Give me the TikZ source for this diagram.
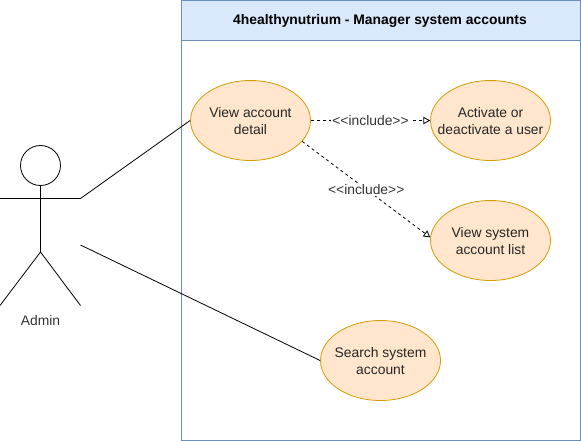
\documentclass[tikz,border=0pt]{standalone}
\usepackage{fontspec}
\setmainfont{Liberation Sans}
\usetikzlibrary{arrows.meta,shapes.geometric}
\definecolor{usefill}{HTML}{FFE6CC}
\definecolor{usedraw}{HTML}{D79B00}
\definecolor{boxfill}{HTML}{DAE8FC}
\definecolor{boxdraw}{HTML}{6C8EBF}
\tikzset{
	usecase/.style={ellipse,draw=usedraw,fill=usefill,minimum width=90pt,minimum height=60pt,inner sep=0pt},
	usetext/.style={align=center,inner sep=0pt,yshift=-0.6pt,text=black!85,font=\fontsize{10.4}{12.75}\selectfont},
	include/.style={dash pattern=on 2.25pt off 2.25pt,-{Triangle[open,length=5pt,width=5.5pt]}},
	inclabel/.style={fill=white,inner sep=1pt,text=black!80,font=\fontsize{10.4}{12}\selectfont},
	assoc/.style={draw=black,line width=0.6pt}
}
\begin{document}
\begin{tikzpicture}[x=0.75pt,y=-0.75pt,line width=0.6pt]
		\useasboundingbox (0,0) rectangle (581,441);
		\draw[boxdraw,fill=boxfill] (181,0.5) rectangle (580,40.5);
		\draw[boxdraw] (181,40.5) rectangle (580,440);
		\node[font=\fontsize{10.4}{12}\selectfont\bfseries] (title) at (380,21) {4healthynutrium - Manager system accounts};
		\node[usecase,label={[usetext]center:View account\\detail}] (detail) at (250.5,120.5) {};
		\node[usecase,label={[usetext]center:Activate or\\deactivate a user}] (activate) at (490.5,120.5) {};
		\node[usecase,label={[usetext]center:View system\\account list}] (list) at (490.5,240.5) {};
		\node[usecase,label={[usetext]center:Search system\\account}] (search) at (380.5,360.5) {};
		% actor
		\node[circle,draw,minimum size=30pt,inner sep=0pt] (head) at (40.5,165.5) {};
		\coordinate (hip) at (40.5,252);
		\coordinate (armL) at (0,198.5);
		\coordinate (armR) at (80.5,198.5);
		\coordinate (footL) at (0,305.5);
		\coordinate (footR) at (80.5,305.5);
		\coordinate (side) at (80.5,245);
		\draw (head.south) -- (hip);
		\draw (armL) -- (armR);
		\draw (footL) -- (hip) -- (footR);
		\node[font=\fontsize{10.4}{12}\selectfont,text=black!80] (admin) at (40.5,320.5) {Admin};
		% connectors
		\draw[assoc] (armR) -- (detail.west);
		\draw[assoc] (side) -- (search.west);
		\draw[include] (detail.east) -- node[inclabel] {<{}<include>{}>} (activate.west);
		\draw[include] (detail.-22) -- node[inclabel,yshift=-0.5pt] {<{}<include>{}>} (list.177);
	\end{tikzpicture}
\end{document}
